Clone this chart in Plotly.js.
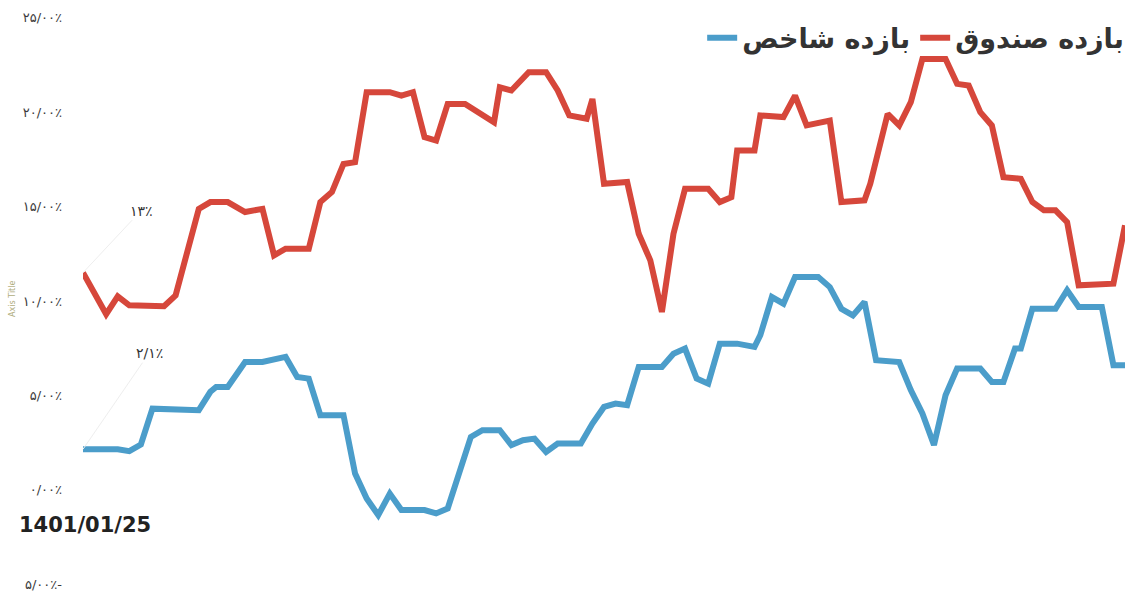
<!DOCTYPE html>
<html>
<head>
<meta charset="utf-8">
<script src="https://cdn.plot.ly/plotly-3.0.1.min.js"></script>
<style>
html,body{margin:0;padding:0;background:#fff;}
#chart{width:1133px;height:592px;}
</style>
</head>
<body>
<div id="chart"></div>
<script>
// Fund return (بازده صندوق), day index -> percent
var fundDay = [0,4,6,8,14,16,20,22,25,28,31,33,35,39,41,43,45,47,49,53,55,57,59,61,63,66,71,72,74,77,80,82,84,87,88,90,94,96,98,100,102,104,108,110,112,113,116,117,121,123,125,129,131,135,136,139,141,143,145,149,151,153,155,157,159,162,164,166,168,170,172,178,180];
var fundReturn = [11.5,9.3,10.25,9.77,9.72,10.3,14.88,15.24,15.24,14.71,14.88,12.42,12.77,12.77,15.24,15.77,17.26,17.35,21.06,21.06,20.88,21.06,18.68,18.5,20.44,20.44,19.47,21.32,21.15,22.12,22.12,21.15,19.83,19.65,20.7,16.21,16.3,13.56,12.15,9.42,13.56,15.94,15.94,15.24,15.5,17.97,17.97,19.83,19.74,20.88,19.3,19.56,15.24,15.33,16.21,19.91,19.3,20.53,22.82,22.82,21.5,21.41,20.0,19.3,16.56,16.47,15.24,14.8,14.8,14.18,10.83,10.92,14.01];

// Index return (بازده شاخص)
var indexDay = [0,6,8,10,12,20,22,23,25,28,31,35,37,39,41,45,47,49,51,53,55,59,61,63,67,69,72,74,76,78,80,82,86,88,90,92,94,96,100,102,104,106,108,110,113,116,117,119,121,123,127,129,131,133,135,137,141,143,145,147,149,151,155,157,159,161,162,164,168,170,172,176,178,180];
var indexReturn = [2.15,2.15,2.05,2.4,4.3,4.22,5.19,5.45,5.45,6.77,6.77,7.04,5.98,5.89,3.95,3.95,0.86,-0.46,-1.34,-0.2,-1.07,-1.07,-1.25,-0.99,2.8,3.16,3.16,2.37,2.63,2.71,2.01,2.45,2.45,3.51,4.39,4.57,4.48,6.51,6.51,7.21,7.48,5.89,5.62,7.74,7.74,7.57,8.19,10.21,9.86,11.27,11.27,10.74,9.59,9.24,9.95,6.86,6.77,5.28,4.04,2.37,5.01,6.42,6.42,5.71,5.71,7.48,7.48,9.59,9.59,10.57,9.68,9.68,6.6,6.6];

var yTickVals = [-5,0,5,10,15,20,25];
var yTickText = ['۵/۰۰٪-','۰/۰۰٪','۵/۰۰٪','۱۰/۰۰٪','۱۵/۰۰٪','۲۰/۰۰٪','۲۵/۰۰٪'];

var seriesNames = ['بازده صندوق','بازده شاخص'];
var startDate = '1401/01/25';
var fundLabel = '۱۳٪';
var indexLabel = '۲/۱٪';

var traces = [
  {x: fundDay, y: fundReturn, type:'scatter', mode:'lines', name: seriesNames[0], legendrank: 2,
   line:{color:'#d6473b', width:6, shape:'linear'}},
  {x: indexDay, y: indexReturn, type:'scatter', mode:'lines', name: seriesNames[1], legendrank: 1,
   line:{color:'#4b9dca', width:6, shape:'linear'}}
];

var layout = {
  width:1133, height:592,
  margin:{l:83, r:6, t:14, b:4},
  paper_bgcolor:'#ffffff', plot_bgcolor:'#ffffff',
  showlegend:true,
  legend:{orientation:'h', x:1.004, xanchor:'right', y:0.958, yanchor:'middle',
    bgcolor:'rgba(0,0,0,0)', font:{family:'DejaVu Sans', size:27, color:'#333333', weight:'bold'},
    itemwidth:30},
  xaxis:{range:[0,180], showgrid:false, zeroline:false, showline:false, showticklabels:false, ticks:''},
  yaxis:{range:[-5.2,25.2], tickvals:yTickVals, ticktext:yTickText, showgrid:false, zeroline:false,
    showline:false, ticks:'', ticklabelstandoff:20, ticklabeloverflow:'allow',
    tickfont:{family:'DejaVu Sans', size:13, color:'#3a3a3a'}},
  annotations:[
    {xref:'paper', yref:'paper', x:-0.067, y:0.504, xanchor:'center', yanchor:'middle', text:'Axis Title', textangle:-90, showarrow:false,
     font:{family:'DejaVu Sans', size:8, color:'#b0ad80'}},
    {xref:'paper', yref:'paper', x:-0.063, y:0.11, xanchor:'left', yanchor:'middle', text:'<b>'+startDate+'</b>',
     showarrow:false, font:{family:'DejaVu Sans', size:21, color:'#222222'}},
    {x:fundDay[0], y:fundReturn[0], text:fundLabel, showarrow:true, arrowhead:0, arrowwidth:1,
     arrowcolor:'#eeeeee', ax:58, ay:-62, font:{family:'DejaVu Sans', size:14, color:'#333333'}},
    {x:indexDay[0], y:indexReturn[0], text:indexLabel, showarrow:true, arrowhead:0, arrowwidth:1,
     arrowcolor:'#eeeeee', ax:66, ay:-96, font:{family:'DejaVu Sans', size:14, color:'#333333'}}
  ]
};

Plotly.newPlot('chart', traces, layout, {displayModeBar:false, staticPlot:true});
</script>
</body>
</html>
